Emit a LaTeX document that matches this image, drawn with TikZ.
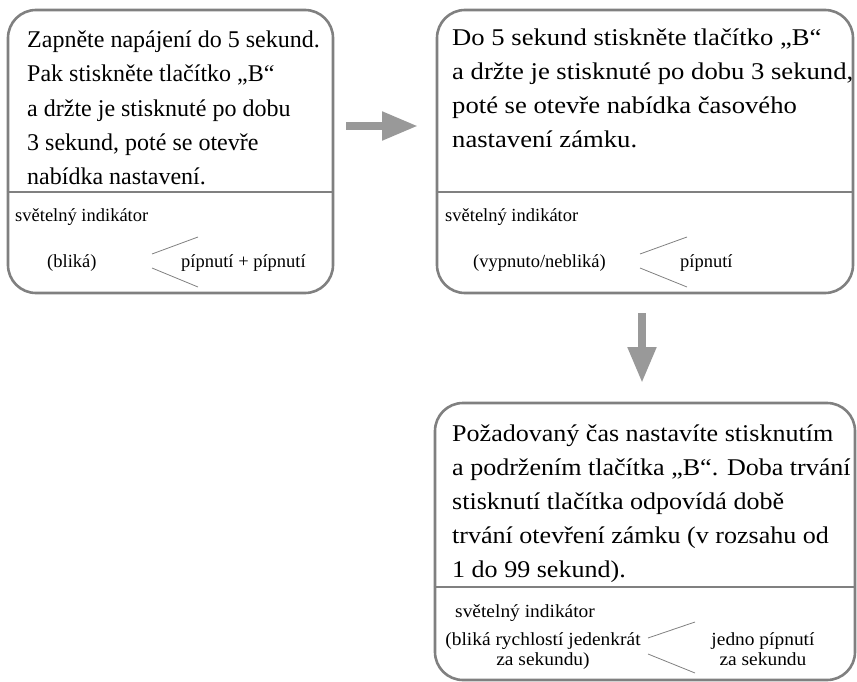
\documentclass[tikz,border=0pt]{standalone}
\usepackage{fontspec}
\setmainfont{Liberation Serif}
\newfontfamily\widefont[FakeStretch=1.11]{Liberation Serif}
\newfontfamily\midwidefont[FakeStretch=1.085]{Liberation Serif}
\newfontfamily\smallwidefont[FakeStretch=1.05]{Liberation Serif}
\usetikzlibrary{arrows.meta}
\definecolor{boxgray}{HTML}{808080}
\definecolor{arrgray}{HTML}{999999}
\tikzset{
  box/.style={draw=boxgray, line width=2.6pt, rounded corners=28pt, inner sep=0pt},
  divider/.style={draw=boxgray, line width=1.5pt},
  maintext/.style={anchor=base west, inner sep=0pt, align=left, font=\fontsize{24}{34.5}\selectfont},
  maintextwide/.style={anchor=base west, inner sep=0pt, align=left, font=\widefont\fontsize{24}{34}\selectfont},
  smalltext/.style={anchor=base west, inner sep=0pt, font=\fontsize{18.5}{20}\selectfont},
  smallc/.style={anchor=base, inner sep=0pt, align=center, font=\smallwidefont\fontsize{18.5}{20}\selectfont},
  fork/.style={draw=boxgray, line width=0.8pt},
  fatarrow/.style={draw=arrgray, line width=8pt, -{Triangle[length=36pt,width=27pt]}}
}
\begin{document}
\begin{tikzpicture}[x=1pt,y=-1pt]
\useasboundingbox (0,0) rectangle (857,682);
% boxes
\node[box, minimum width=325pt, minimum height=283pt] (b1) at (170.5,151.5) {};
\node[box, minimum width=416pt, minimum height=283pt] (b2) at (645,151.5) {};
\node[box, minimum width=420pt, minimum height=277pt] (b3) at (645,541.5) {};
\draw[divider] (b1.west |- 0,192) -- (b1.east |- 0,192);
\draw[divider] (b2.west |- 0,192) -- (b2.east |- 0,192);
\draw[divider] (b3.west |- 0,587) -- (b3.east |- 0,587);
% box 1 text (anchored at the baseline of its last line)
\node[maintext] (t1) at (27,185) {Zapněte napájení do 5 sekund.\\Pak stiskněte tlačítko „B“\\a držte je stisknuté po dobu\\3 sekund, poté se otevře\\nabídka nastavení.};
\node[smalltext] (s1) at (15,222) {světelný indikátor};
\node[smalltext] (l1) at (47,267) {(bliká)};
\node[smalltext] (r1) at (181,267) {pípnutí + pípnutí};
\coordinate (f1) at (152,254); \coordinate (f1a) at (198,237);
\coordinate (f1b) at (152,268); \coordinate (f1c) at (198,287);
\draw[fork] (f1) -- (f1a); \draw[fork] (f1b) -- (f1c);
% box 2 text
\node[maintextwide] (t2) at (452,148) {Do 5 sekund stiskněte tlačítko „B“\\a držte je stisknuté po dobu 3 sekund,\\poté se otevře nabídka časového\\nastavení zámku.};
\node[smalltext] (s2) at (445,222) {světelný indikátor};
\node[smalltext] (l2) at (473,267) {(vypnuto/nebliká)};
\node[smalltext] (r2) at (680,267) {pípnutí};
\coordinate (f2) at (640,254); \coordinate (f2a) at (687,237);
\coordinate (f2b) at (640,268); \coordinate (f2c) at (687,287);
\draw[fork] (f2) -- (f2a); \draw[fork] (f2b) -- (f2c);
% box 3 text
\node[maintextwide, font=\midwidefont\fontsize{24}{34}\selectfont] (t3) at (452,577) {Požadovaný čas nastavíte stisknutím\\a podržením tlačítka „B“. Doba trvání\\stisknutí tlačítka odpovídá době\\trvání otevření zámku (v rozsahu od\\1 do 99 sekund).};
\node[smalltext, font=\smallwidefont\fontsize{18.5}{20}\selectfont] (s3) at (455,617) {světelný indikátor};
\node[smallc] (l3) at (543,665) {(bliká rychlostí jedenkrát\\za sekundu)};
\node[smallc] (r3) at (763,665) {jedno pípnutí\\za sekundu};
\coordinate (f3) at (648,638); \coordinate (f3a) at (695,622);
\coordinate (f3b) at (648,654); \coordinate (f3c) at (695,673);
\draw[fork] (f3) -- (f3a); \draw[fork] (f3b) -- (f3c);
% arrows
\coordinate (a1s) at (346,126); \coordinate (a1e) at (418,126);
\draw[fatarrow] (a1s) -- (a1e);
\coordinate (a2s) at (642,313); \coordinate (a2e) at (642,383);
\draw[fatarrow] (a2s) -- (a2e);
\end{tikzpicture}
\end{document}
